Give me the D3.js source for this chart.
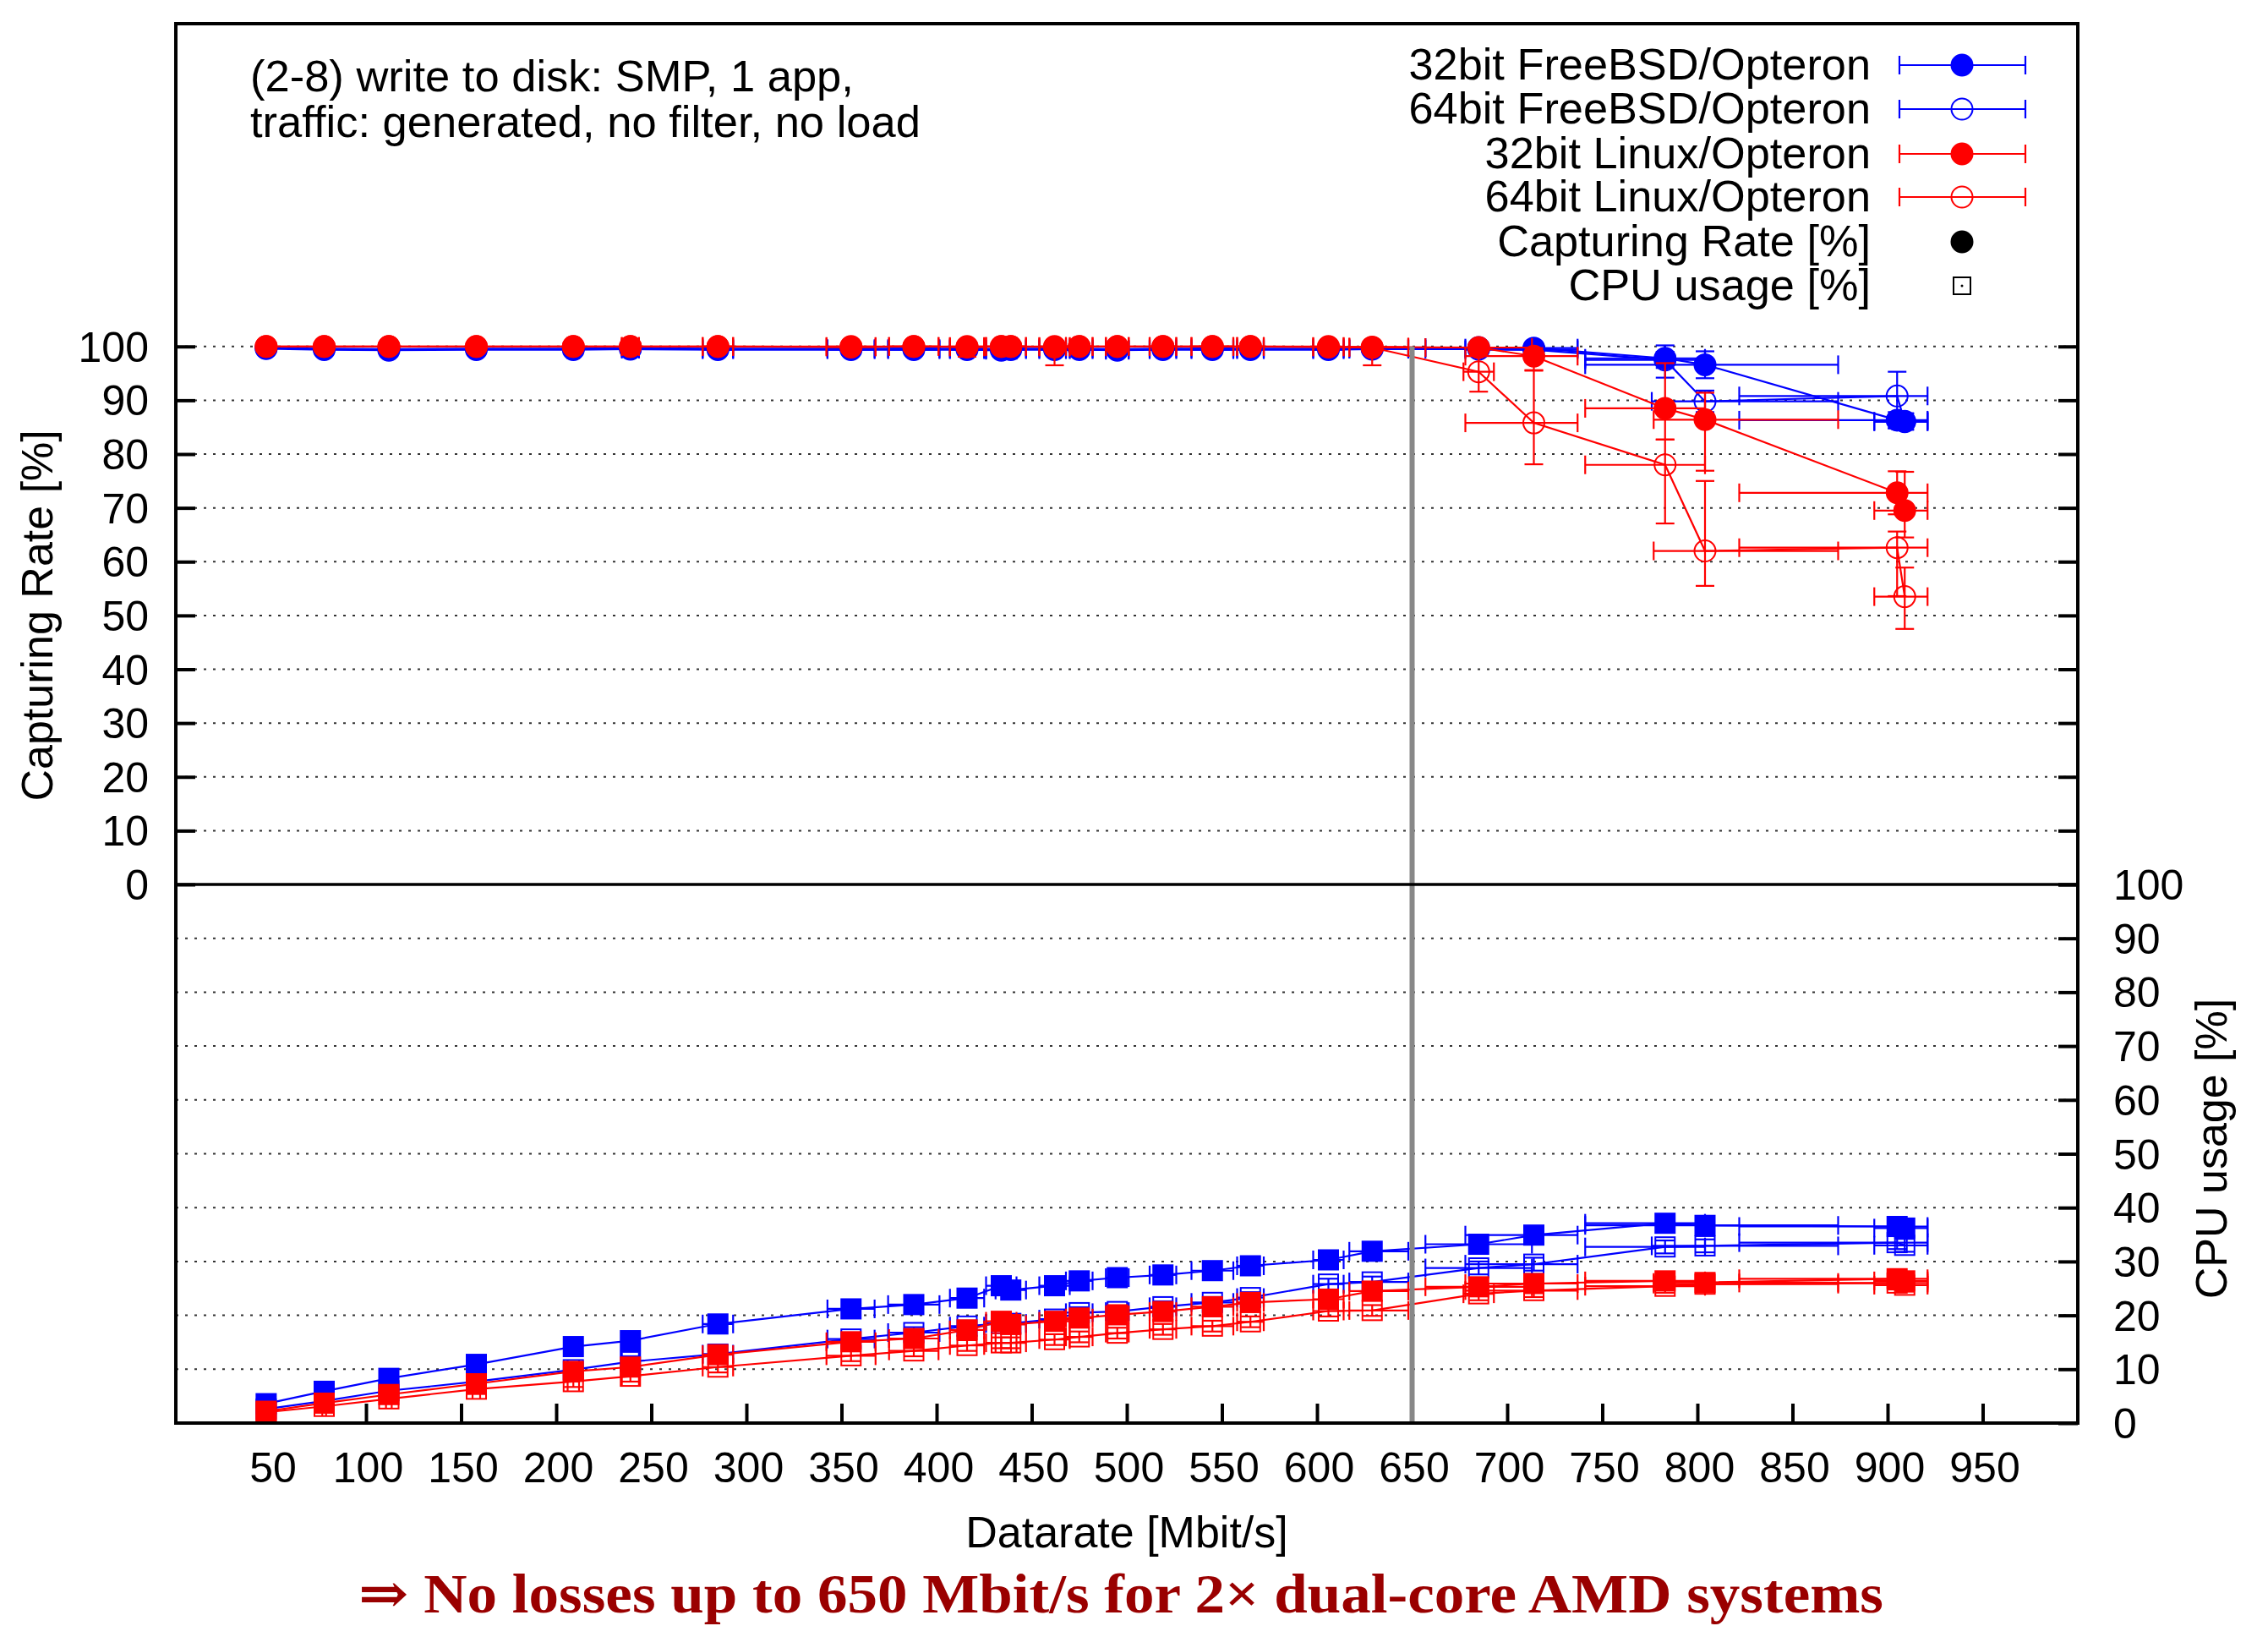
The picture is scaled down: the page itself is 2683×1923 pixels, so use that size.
<!DOCTYPE html>
<html>
<head>
<meta charset="utf-8">
<script src="https://cdn.jsdelivr.net/npm/d3@7"></script>
<style>
  html, body { margin: 0; padding: 0; background: #fff; }
  svg { display: block; }
</style>
</head>
<body>
<script>
// ---------------- DATA ----------------
const xRates = [47.5, 78, 112, 158, 209, 239, 285, 355, 388, 416, 434, 439, 462, 475, 495, 519, 545, 565, 606, 629, 685, 714, 783, 804, 905, 909];

const seriesNames = ["32bit FreeBSD/Opteron", "64bit FreeBSD/Opteron", "32bit Linux/Opteron", "64bit Linux/Opteron"];
const seriesColors = ["#0000ff", "#0000ff", "#ff0000", "#ff0000"];
const seriesFilled = [true, false, true, false];

// Capturing rate [%]
const capBSD32 = [99.7, 99.6, 99.5, 99.6, 99.6, 99.7, 99.6, 99.6, 99.6, 99.6, 99.5, 99.6, 99.6, 99.6, 99.5, 99.6, 99.6, 99.6, 99.6, 99.6, 99.8, 99.7, 97.8, 96.6, 86.3, 86.1];
const capBSD64 = [99.6, 99.4, 99.3, 99.4, 99.4, 99.5, 99.4, 99.4, 99.4, 99.4, 99.3, 99.4, 99.4, 99.4, 99.3, 99.4, 99.4, 99.4, 99.4, 99.5, 99.5, 99.4, 97.5, 89.8, 90.8, 86.0];
const capLin32 = [100, 100, 100, 100, 100, 100, 100, 99.9, 100, 99.9, 100, 100, 99.9, 100, 100, 100, 100, 100, 99.9, 99.9, 99.8, 98.2, 88.5, 86.4, 72.8, 69.5];
const capLin64 = [100, 100, 100, 100, 100, 100, 100, 100, 100, 100, 100, 100, 100, 100, 100, 100, 100, 100, 100, 99.8, 95.3, 85.8, 78.0, 62.0, 62.6, 53.5];

// CPU usage [%]
const cpuBSD32 = [3.6, 5.9, 8.3, 10.9, 14.2, 15.3, 18.4, 21.2, 22.0, 23.2, 25.5, 24.7, 25.5, 26.4, 27.0, 27.5, 28.3, 29.2, 30.3, 31.9, 33.2, 34.9, 37.1, 36.7, 36.5, 36.2];
const cpuBSD64 = [2.6, 4.1, 6.0, 7.7, 9.9, 11.4, 12.8, 15.6, 16.8, 18.0, 18.5, 18.5, 19.3, 20.5, 20.7, 21.6, 22.4, 23.3, 25.8, 26.2, 28.8, 29.5, 32.7, 32.9, 33.5, 33.0];
const cpuLin32 = [2.2, 3.7, 5.3, 7.3, 9.6, 10.4, 12.7, 15.1, 15.7, 17.3, 18.9, 18.3, 18.9, 19.5, 20.1, 20.7, 21.6, 22.4, 23.0, 24.5, 25.3, 25.9, 26.4, 26.1, 26.8, 26.4];
const cpuLin64 = [2.0, 3.1, 4.5, 6.3, 7.7, 8.7, 10.4, 12.5, 13.4, 14.4, 14.9, 14.9, 15.5, 16.0, 16.7, 17.4, 18.0, 18.8, 20.8, 20.9, 24.0, 24.6, 25.4, 25.8, 26.0, 25.6];

// Datarate errors: distance below / above the measured rate (Mbit/s)
const xMinusBSD32 = [0.5, 1, 1.5, 2, 3, 4.5, 8, 12.4, 13.5, 9, 8, 8, 8, 7, 6, 7, 11, 7, 8, 12, 28, 36, 42, 63, 83, 16];
const xPlusBSD32  = [0.5, 1, 1.5, 2, 3, 4.5, 8, 12.4, 13.5, 9, 8, 8, 8, 7, 6, 7, 11, 7, 8, 19, 28, 23, 21, 70, 16, 12];
const xMinusBSD64 = [0.5, 1, 1.5, 2, 3, 4.5, 8, 12.4, 13.5, 9, 8, 8, 8, 7, 6, 7, 11, 7, 8, 12, 28, 36, 42, 28, 83, 16];
const xPlusBSD64  = [0.5, 1, 1.5, 2, 3, 4.5, 8, 12.4, 13.5, 9, 8, 8, 8, 7, 6, 7, 11, 7, 8, 19, 28, 23, 21, 70, 16, 12];
const xMinusLin32 = [0.5, 1, 1.5, 2, 3, 4.5, 8, 12.9, 13, 9, 8, 8, 8, 7, 6, 7, 11, 7, 8, 12, 28, 36, 42, 27, 83, 16];
const xPlusLin32  = [0.5, 1, 1.5, 2, 3, 4.5, 8, 12.9, 13, 9, 8, 8, 8, 7, 6, 7, 11, 7, 8, 19, 28, 23, 21, 70, 16, 12];
const xMinusLin64 = [0.5, 1, 1.5, 2, 3, 4.5, 8, 12.9, 13, 9, 8, 8, 8, 7, 6, 7, 11, 7, 8, 12, 8, 36, 42, 27, 83, 16];
const xPlusLin64  = [0.5, 1, 1.5, 2, 3, 4.5, 8, 12.9, 13, 9, 8, 8, 8, 7, 6, 7, 11, 7, 8, 19, 8, 23, 21, 70, 16, 12];

// Capturing rate errors: distance below / above (%)
const capMinusBSD32 = [0.3, 0.3, 0.3, 0.3, 0.3, 0.3, 0.3, 0.3, 0.3, 0.3, 0.3, 0.3, 0.3, 0.3, 0.3, 0.3, 0.3, 0.3, 0.3, 0.3, 0.5, 0.5, 3.6, 2.5, 1.5, 1.5];
const capPlusBSD32  = [0.3, 0.3, 0.3, 0.3, 0.3, 0.3, 0.3, 0.3, 0.3, 0.3, 0.3, 0.3, 0.3, 0.3, 0.3, 0.3, 0.3, 0.3, 0.3, 0.3, 0.2, 0.3, 2.4, 2.5, 1.5, 1.5];
const capMinusBSD64 = [0.3, 0.3, 0.3, 0.3, 0.3, 0.3, 0.3, 0.3, 0.3, 0.3, 0.3, 0.3, 0.3, 0.3, 0.3, 0.3, 0.3, 0.3, 0.3, 0.3, 0.5, 0.5, 1.5, 2.0, 6.0, 1.5];
const capPlusBSD64  = [0.3, 0.3, 0.3, 0.3, 0.3, 0.3, 0.3, 0.3, 0.3, 0.3, 0.3, 0.3, 0.3, 0.3, 0.3, 0.3, 0.3, 0.3, 0.3, 0.3, 0.5, 0.5, 1.5, 2.0, 4.5, 1.5];
const capMinusLin32 = [0.3, 0.3, 0.3, 0.3, 0.3, 0.3, 0.3, 0.3, 0.3, 1.8, 0.3, 0.3, 3.4, 0.3, 0.3, 0.3, 0.3, 0.3, 0.3, 3.4, 0.5, 2.6, 5.8, 9.5, 4.0, 5.0];
const capPlusLin32  = [0.3, 0.3, 0.3, 0.3, 0.3, 0.3, 0.3, 0.3, 0.3, 0.3, 0.3, 0.3, 0.3, 0.3, 0.3, 0.3, 0.3, 0.3, 0.3, 0.3, 0.2, 1.5, 8.4, 5.0, 4.0, 7.2];
const capMinusLin64 = [0.3, 0.3, 0.3, 0.3, 0.3, 0.3, 0.3, 0.3, 0.3, 0.3, 0.3, 0.3, 0.3, 0.3, 0.3, 0.3, 0.3, 0.3, 0.3, 0.5, 3.7, 7.7, 10.9, 6.5, 9.0, 6.0];
const capPlusLin64  = [0.3, 0.3, 0.3, 0.3, 0.3, 0.3, 0.3, 0.3, 0.3, 0.3, 0.3, 0.3, 0.3, 0.3, 0.3, 0.3, 0.3, 0.3, 0.3, 0.2, 3.1, 9.7, 4.7, 13.0, 3.0, 5.4];

// CPU usage errors (half heights, %)
const cpuErrBSD32 = [0.5, 0.5, 0.5, 0.5, 0.5, 0.5, 0.5, 0.6, 0.6, 0.6, 0.6, 0.6, 0.6, 0.6, 0.6, 0.6, 0.6, 0.6, 0.6, 0.6, 0.6, 0.6, 0.7, 0.7, 0.7, 0.7];
const cpuErrBSD64 = [0.8, 0.8, 0.8, 0.8, 1.0, 1.0, 1.0, 1.0, 1.0, 1.0, 1.0, 1.0, 1.0, 1.0, 1.0, 1.0, 1.0, 1.0, 1.0, 1.0, 1.2, 1.2, 1.2, 1.2, 1.2, 1.2];
const cpuErrLin32 = [0.5, 0.5, 0.5, 0.5, 0.6, 0.6, 0.6, 0.6, 0.6, 0.6, 0.6, 0.6, 0.6, 0.6, 0.6, 0.6, 0.6, 0.6, 0.6, 0.6, 0.7, 0.7, 0.7, 0.7, 0.7, 0.7];
const cpuErrLin64 = [0.8, 0.8, 0.9, 0.9, 1.0, 1.0, 1.0, 1.0, 1.0, 1.0, 1.0, 1.0, 1.0, 1.0, 1.0, 1.0, 1.0, 1.0, 1.0, 1.0, 1.2, 1.2, 1.2, 1.2, 1.2, 1.2];

const xTicks = [50, 100, 150, 200, 250, 300, 350, 400, 450, 500, 550, 600, 650, 700, 750, 800, 850, 900, 950];
const yTicks = [0, 10, 20, 30, 40, 50, 60, 70, 80, 90, 100];
const markerLine = 650;

const titleLines = ["(2-8) write to disk: SMP, 1 app,", "traffic: generated, no filter, no load"];
const xLabel = "Datarate [Mbit/s]";
const yLabel = "Capturing Rate [%]";
const y2Label = "CPU usage [%]";
const legendExtra = ["Capturing Rate [%]", "CPU usage [%]"];
const footer = "\u21D2 No losses up to 650 Mbit/s for 2\u00D7 dual-core AMD systems";

// ---------------- LAYOUT ----------------
const W = 2683, H = 1923;
const L = 208, R = 2458, T = 28, M = 1046, B = 1683;
const FONT = "'Liberation Sans', Arial, Helvetica, sans-serif";

const svg = d3.select("body").append("svg").attr("width", W).attr("height", H);

const x = d3.scaleLinear().domain([0, 1000]).range([L, R]);
const yCap = d3.scaleLinear().domain([0, 160]).range([M, T]);
const yCpu = d3.scaleLinear().domain([0, 100]).range([B, M]);

// grid
const grid = svg.append("g");
yTicks.filter(v => v > 0).forEach(v => {
  grid.append("line").attr("x1", L).attr("x2", R).attr("y1", yCap(v)).attr("y2", yCap(v))
    .attr("stroke", "#333").attr("stroke-width", 2).attr("stroke-dasharray", "3,8");
});
yTicks.filter(v => v > 0 && v < 100).forEach(v => {
  grid.append("line").attr("x1", L).attr("x2", R).attr("y1", yCpu(v)).attr("y2", yCpu(v))
    .attr("stroke", "#333").attr("stroke-width", 2).attr("stroke-dasharray", "3,8");
});

const axisStyle = g => {
  g.select(".domain").remove();
  g.selectAll(".tick line").attr("stroke", "#000").attr("stroke-width", 4);
  g.selectAll(".tick text").attr("font-family", FONT).attr("font-size", 50).attr("fill", "#000");
};

svg.append("g").attr("transform", `translate(0,${B})`)
  .call(d3.axisBottom(x).tickValues(xTicks).tickSize(-23).tickFormat(d3.format("d")))
  .call(axisStyle)
  .call(g => g.selectAll(".tick text").attr("dy", "0.71em").attr("y", 34).attr("x", 2));

svg.append("g").attr("transform", `translate(${L},0)`)
  .call(d3.axisLeft(yCap).tickValues(yTicks).tickSize(-23).tickFormat(d3.format("d")))
  .call(axisStyle)
  .call(g => g.selectAll(".tick text").attr("x", -32).attr("dy", "0.35em"));

svg.append("g").attr("transform", `translate(${R},0)`)
  .call(d3.axisRight(yCap).tickValues(yTicks).tickSize(-23).tickFormat(""))
  .call(axisStyle);

svg.append("g").attr("transform", `translate(${R},0)`)
  .call(d3.axisRight(yCpu).tickValues(yTicks).tickSize(-23).tickFormat(d3.format("d")))
  .call(axisStyle)
  .call(g => g.selectAll(".tick text").attr("x", 42).attr("dy", "0.35em"));

// ---------------- SERIES ----------------
const capData = [capBSD32, capBSD64, capLin32, capLin64];
const cpuData = [cpuBSD32, cpuBSD64, cpuLin32, cpuLin64];
const xMinus = [xMinusBSD32, xMinusBSD64, xMinusLin32, xMinusLin64];
const xPlus = [xPlusBSD32, xPlusBSD64, xPlusLin32, xPlusLin64];
const capMinus = [capMinusBSD32, capMinusBSD64, capMinusLin32, capMinusLin64];
const capPlus = [capPlusBSD32, capPlusBSD64, capPlusLin32, capPlusLin64];
const cpuErr = [cpuErrBSD32, cpuErrBSD64, cpuErrLin32, cpuErrLin64];

const CAP = 11;
const plot = svg.append("g");

function drawMarker(g, shape, cx, cy, color, filled) {
  if (shape === "circle") {
    g.append("circle").attr("cx", cx).attr("cy", cy).attr("r", 12.5)
      .attr("fill", filled ? color : "none").attr("stroke", color).attr("stroke-width", 2);
  } else {
    g.append("rect").attr("x", cx - 11.5).attr("y", cy - 11.5).attr("width", 23).attr("height", 23)
      .attr("fill", filled ? color : "none").attr("stroke", color).attr("stroke-width", 2);
  }
}

function drawSeries(ys, xm, xp, ym, yp, yScale, color, filled, shape) {
  const g = plot.append("g");
  const pts = xRates.map((xv, i) => ({ x: xv, y: ys[i], xm: xm[i], xp: xp[i], ym: ym[i], yp: yp[i] }));
  g.append("path").datum(pts)
    .attr("d", d3.line().x(d => x(d.x)).y(d => yScale(d.y)))
    .attr("fill", "none").attr("stroke", color).attr("stroke-width", 2.2);
  pts.forEach(d => {
    const cx = x(d.x), cy = yScale(d.y);
    const x0 = x(d.x - d.xm), x1 = x(d.x + d.xp);
    const y0 = yScale(d.y - d.ym), y1 = yScale(d.y + d.yp);
    const eb = g.append("g").attr("stroke", color).attr("stroke-width", 2.2);
    eb.append("line").attr("x1", x0).attr("x2", x1).attr("y1", cy).attr("y2", cy);
    eb.append("line").attr("x1", x0).attr("x2", x0).attr("y1", cy - CAP).attr("y2", cy + CAP);
    eb.append("line").attr("x1", x1).attr("x2", x1).attr("y1", cy - CAP).attr("y2", cy + CAP);
    eb.append("line").attr("x1", cx).attr("x2", cx).attr("y1", y0).attr("y2", y1);
    eb.append("line").attr("x1", cx - CAP).attr("x2", cx + CAP).attr("y1", y0).attr("y2", y0);
    eb.append("line").attr("x1", cx - CAP).attr("x2", cx + CAP).attr("y1", y1).attr("y2", y1);
    drawMarker(g, shape, cx, cy, color, filled);
  });
}

for (let s = 0; s < 4; s++) {
  drawSeries(capData[s], xMinus[s], xPlus[s], capMinus[s], capPlus[s], yCap, seriesColors[s], seriesFilled[s], "circle");
}
for (let s = 0; s < 4; s++) {
  drawSeries(cpuData[s], xMinus[s], xPlus[s], cpuErr[s], cpuErr[s], yCpu, seriesColors[s], seriesFilled[s], "square");
}

// 650 Mbit/s marker line
svg.append("line").attr("x1", x(markerLine)).attr("x2", x(markerLine))
  .attr("y1", yCap(100)).attr("y2", B)
  .attr("stroke", "#888").attr("stroke-width", 6);

// border + separator
svg.append("rect").attr("x", L).attr("y", T).attr("width", R - L).attr("height", B - T)
  .attr("fill", "none").attr("stroke", "#000").attr("stroke-width", 4);
svg.append("line").attr("x1", L).attr("x2", R).attr("y1", M).attr("y2", M)
  .attr("stroke", "#000").attr("stroke-width", 3.5);

// ---------------- TEXT ----------------
titleLines.forEach((t, i) => {
  svg.append("text").attr("x", 296).attr("y", 108 + i * 54)
    .attr("font-family", FONT).attr("font-size", 52.5).attr("fill", "#000").text(t);
});

svg.append("text").attr("x", x(500)).attr("y", 1830).attr("text-anchor", "middle")
  .attr("font-family", FONT).attr("font-size", 52).text(xLabel);

svg.append("text").attr("transform", `translate(62,${(yCap(0) + yCap(100)) / 2}) rotate(-90)`)
  .attr("text-anchor", "middle").attr("font-family", FONT).attr("font-size", 52).text(yLabel);

svg.append("text").attr("transform", `translate(2634,${(yCpu(0) + yCpu(100)) / 2 - 6}) rotate(-90)`)
  .attr("text-anchor", "middle").attr("font-family", FONT).attr("font-size", 52).text(y2Label);

// legend
const legRows = [77, 129, 182, 233, 286, 338];
const legTextX = 2213, legX0 = 2247, legX1 = 2396, legM = 2321;
seriesNames.forEach((name, i) => {
  const y = legRows[i];
  svg.append("text").attr("x", legTextX).attr("y", y + 17).attr("text-anchor", "end")
    .attr("font-family", FONT).attr("font-size", 52.3).text(name);
  const g = svg.append("g").attr("stroke", seriesColors[i]).attr("stroke-width", 2.2);
  g.append("line").attr("x1", legX0).attr("x2", legX1).attr("y1", y).attr("y2", y);
  g.append("line").attr("x1", legX0).attr("x2", legX0).attr("y1", y - CAP).attr("y2", y + CAP);
  g.append("line").attr("x1", legX1).attr("x2", legX1).attr("y1", y - CAP).attr("y2", y + CAP);
  drawMarker(svg.append("g"), "circle", legM, y, seriesColors[i], seriesFilled[i]);
});
svg.append("text").attr("x", legTextX).attr("y", legRows[4] + 17).attr("text-anchor", "end")
  .attr("font-family", FONT).attr("font-size", 52.3).text(legendExtra[0]);
drawMarker(svg.append("g"), "circle", legM, legRows[4], "#000", true);
svg.append("text").attr("x", legTextX).attr("y", legRows[5] + 17).attr("text-anchor", "end")
  .attr("font-family", FONT).attr("font-size", 52.3).text(legendExtra[1]);
svg.append("rect").attr("x", legM - 10).attr("y", legRows[5] - 10).attr("width", 20).attr("height", 20)
  .attr("fill", "none").attr("stroke", "#000").attr("stroke-width", 2);
svg.append("circle").attr("cx", legM).attr("cy", legRows[5]).attr("r", 1.5).attr("fill", "#000");

// footer
svg.append("text").attr("x", 424).attr("y", 1907)
  .attr("font-family", "'Liberation Serif', 'DejaVu Serif', serif").attr("font-weight", "bold")
  .attr("font-size", 66).attr("fill", "#9a0000")
  .attr("textLength", 1804).attr("lengthAdjust", "spacingAndGlyphs")
  .text(footer);
</script>
</body>
</html>
